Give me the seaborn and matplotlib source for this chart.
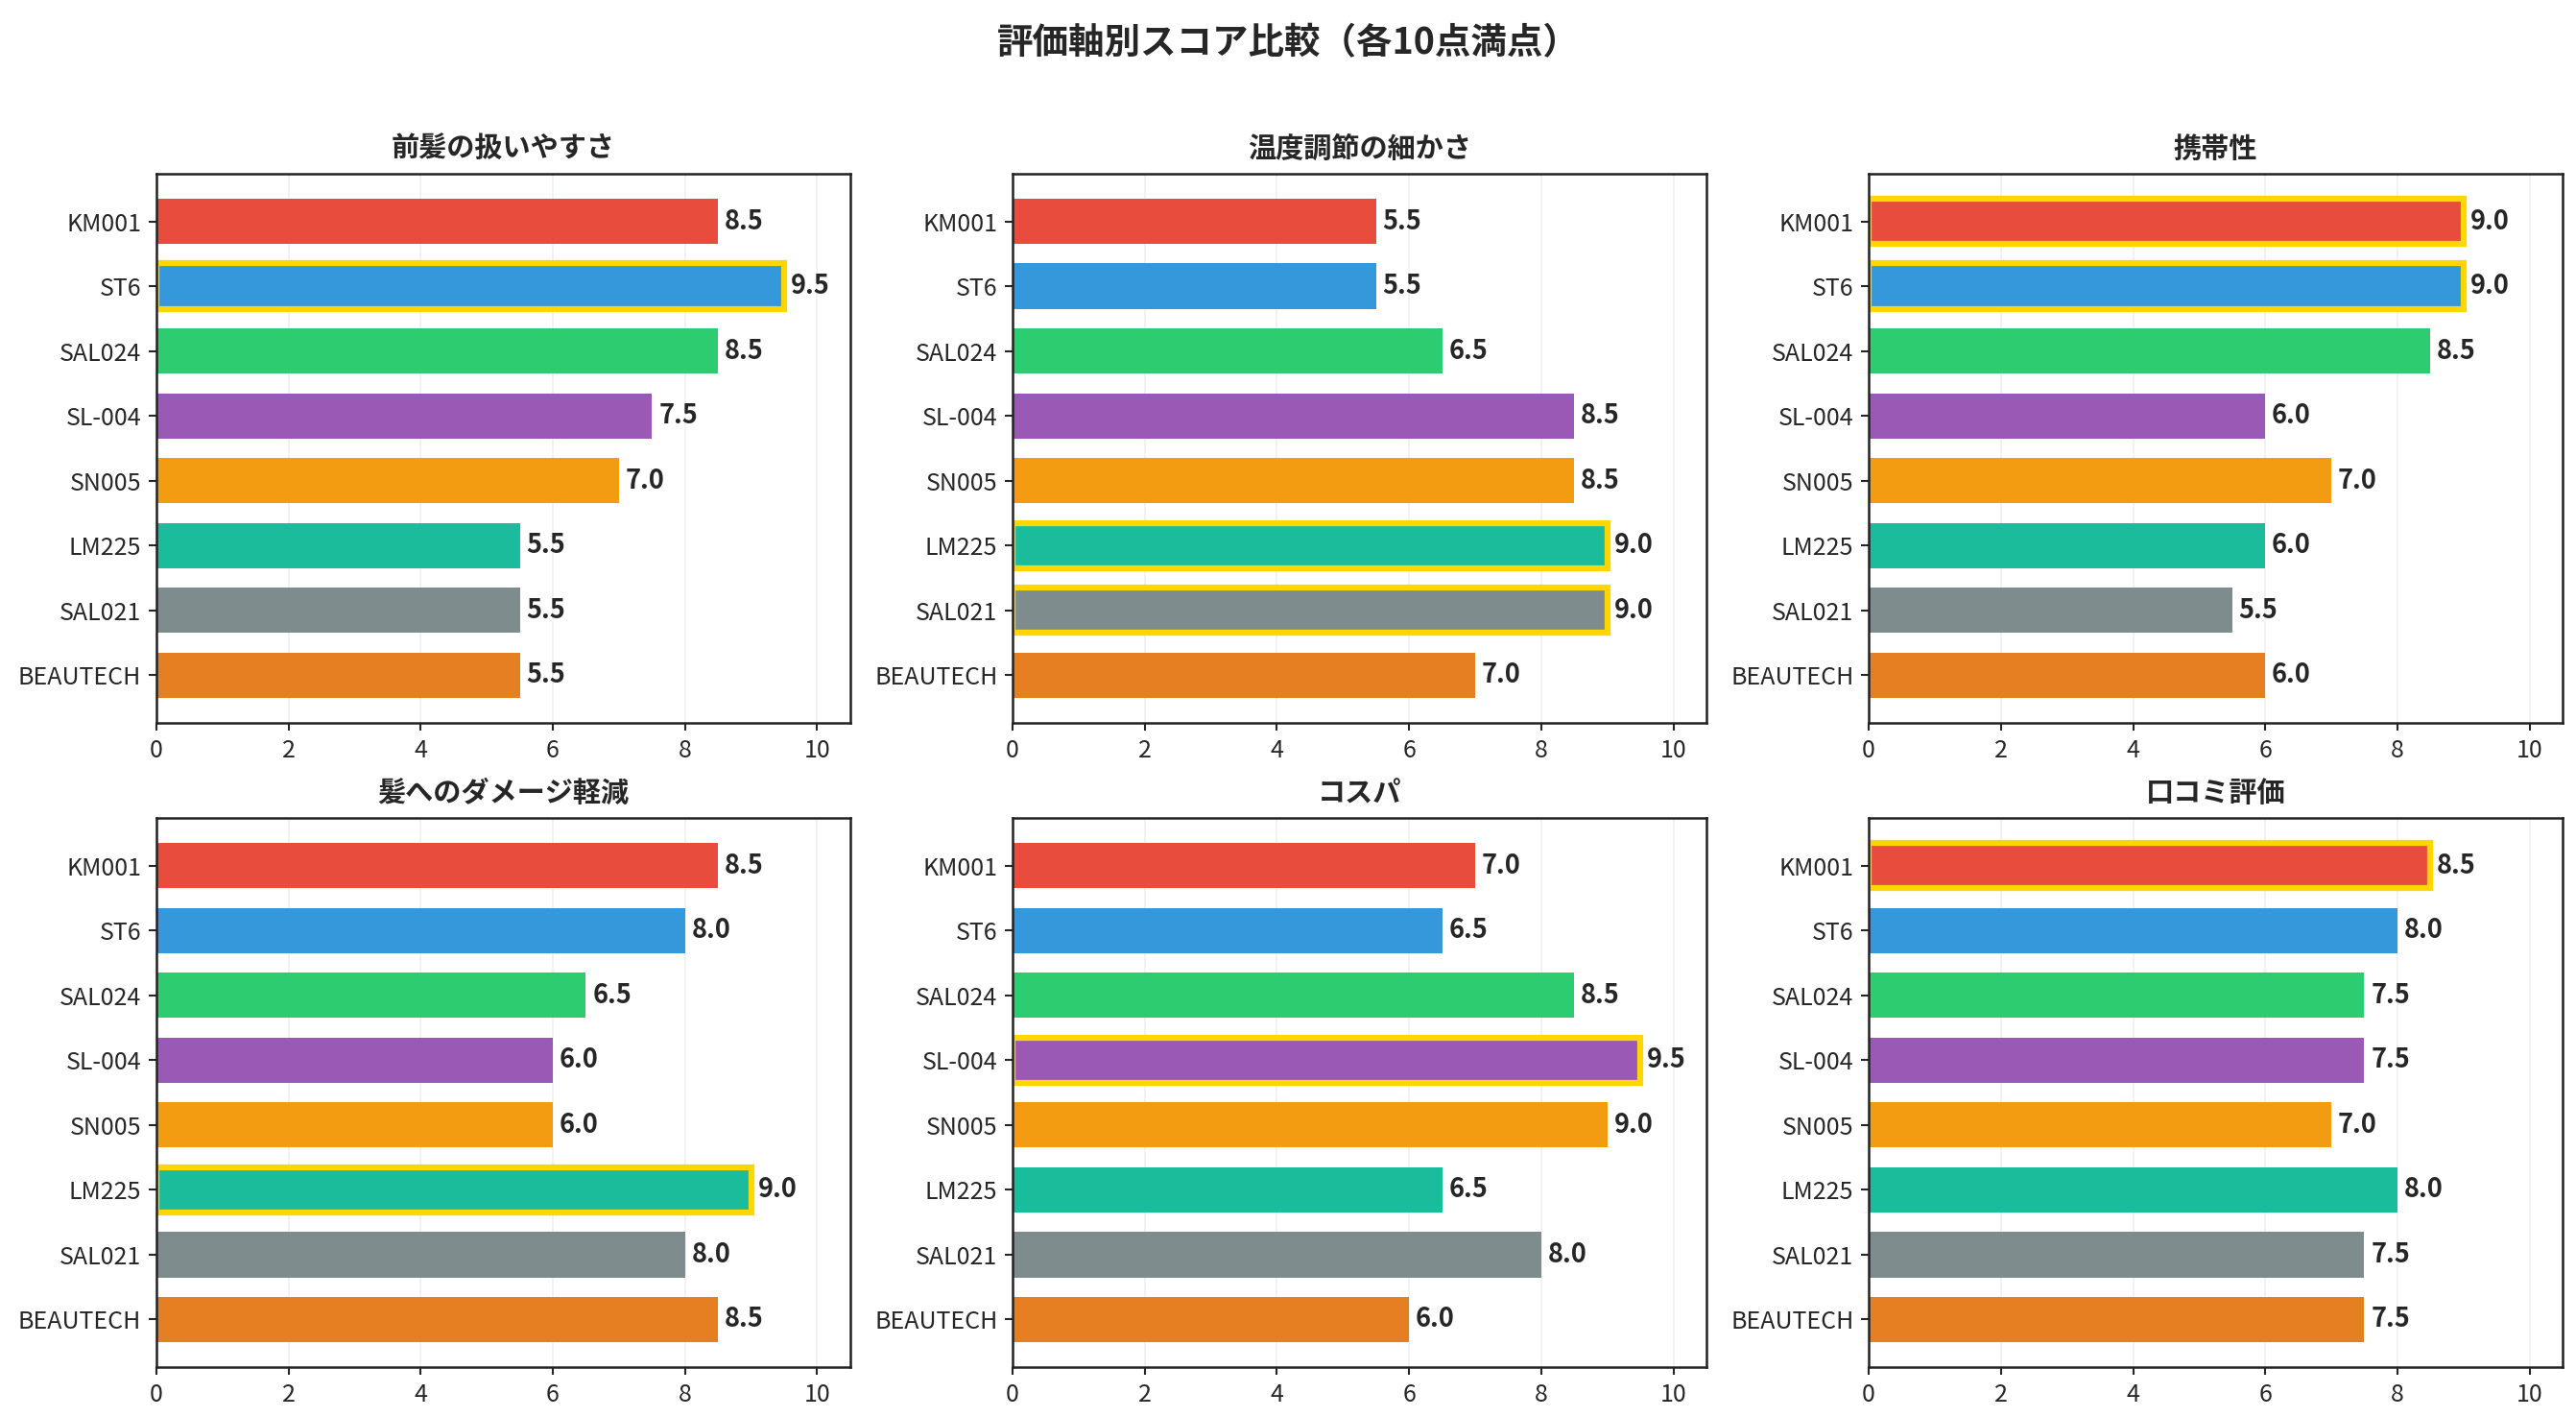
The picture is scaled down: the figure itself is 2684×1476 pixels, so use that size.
import pandas as pd
import matplotlib.pyplot as plt
import seaborn as sns

# Products and colors
products = ["KM001", "ST6", "SAL024", "SL-004", "SN005", "LM225", "SAL021", "BEAUTECH"]
colors = ["#e74c3c", "#3498db", "#2ecc71", "#9b59b6", "#f39c12", "#1abc9c", "#7f8c8d", "#e67e22"]

# Scores per axis (out of 10)
axes_names = ["前髪の扱いやすさ", "温度調節の細かさ", "携帯性", "髪へのダメージ軽減", "コスパ", "口コミ評価"]
bangs = [8.5, 9.5, 8.5, 7.5, 7.0, 5.5, 5.5, 5.5]
temp_control = [5.5, 5.5, 6.5, 8.5, 8.5, 9.0, 9.0, 7.0]
portability = [9.0, 9.0, 8.5, 6.0, 7.0, 6.0, 5.5, 6.0]
damage = [8.5, 8.0, 6.5, 6.0, 6.0, 9.0, 8.0, 8.5]
cost = [7.0, 6.5, 8.5, 9.5, 9.0, 6.5, 8.0, 6.0]
reviews = [8.5, 8.0, 7.5, 7.5, 7.0, 8.0, 7.5, 7.5]
all_scores = [bangs, temp_control, portability, damage, cost, reviews]

sns.set_style("ticks")
plt.rcParams["font.family"] = ["Noto Sans CJK JP", "DejaVu Sans"]

fig, axes = plt.subplots(2, 3, figsize=(2684 / 150, 1476 / 150), dpi=150)
fig.subplots_adjust(left=0.0607, right=0.9948, top=0.8774, bottom=0.0352,
                    wspace=0.234, hspace=0.173)

for ax, name, scores in zip(axes.flat, axes_names, all_scores):
    df = pd.DataFrame({"product": products, "score": scores})
    sns.barplot(data=df, x="score", y="product", hue="product", palette=colors,
                order=products, hue_order=products, saturation=1, width=0.7,
                legend=False, linewidth=0, ax=ax)
    best = max(scores)
    for p in ax.patches:
        idx = int(round(p.get_y() + p.get_height() / 2))
        if scores[idx] == best:
            p.set_edgecolor("#FFD700")
            p.set_linewidth(3)
    for i, v in enumerate(scores):
        ax.text(v + 0.1, i, f"{v:.1f}", va="center", ha="left",
                fontsize=13, fontweight="bold")
    ax.set_xlim(0, 10.5)
    ax.set_ylim(len(products) - 1 + 0.735, -0.735)
    ax.set_title(name, fontsize=14, fontweight="bold", pad=8)
    ax.set_xlabel("")
    ax.set_ylabel("")
    ax.grid(axis="x", alpha=0.3)
    ax.set_axisbelow(True)
    ax.tick_params(labelsize=12, length=4, width=1)
    for s in ax.spines.values():
        s.set_visible(True)
        s.set_linewidth(1.2)
        s.set_color("#222222")

fig.suptitle("評価軸別スコア比較（各10点満点）", fontsize=18, fontweight="bold", y=0.983)

plt.savefig("out.png", dpi=150)
